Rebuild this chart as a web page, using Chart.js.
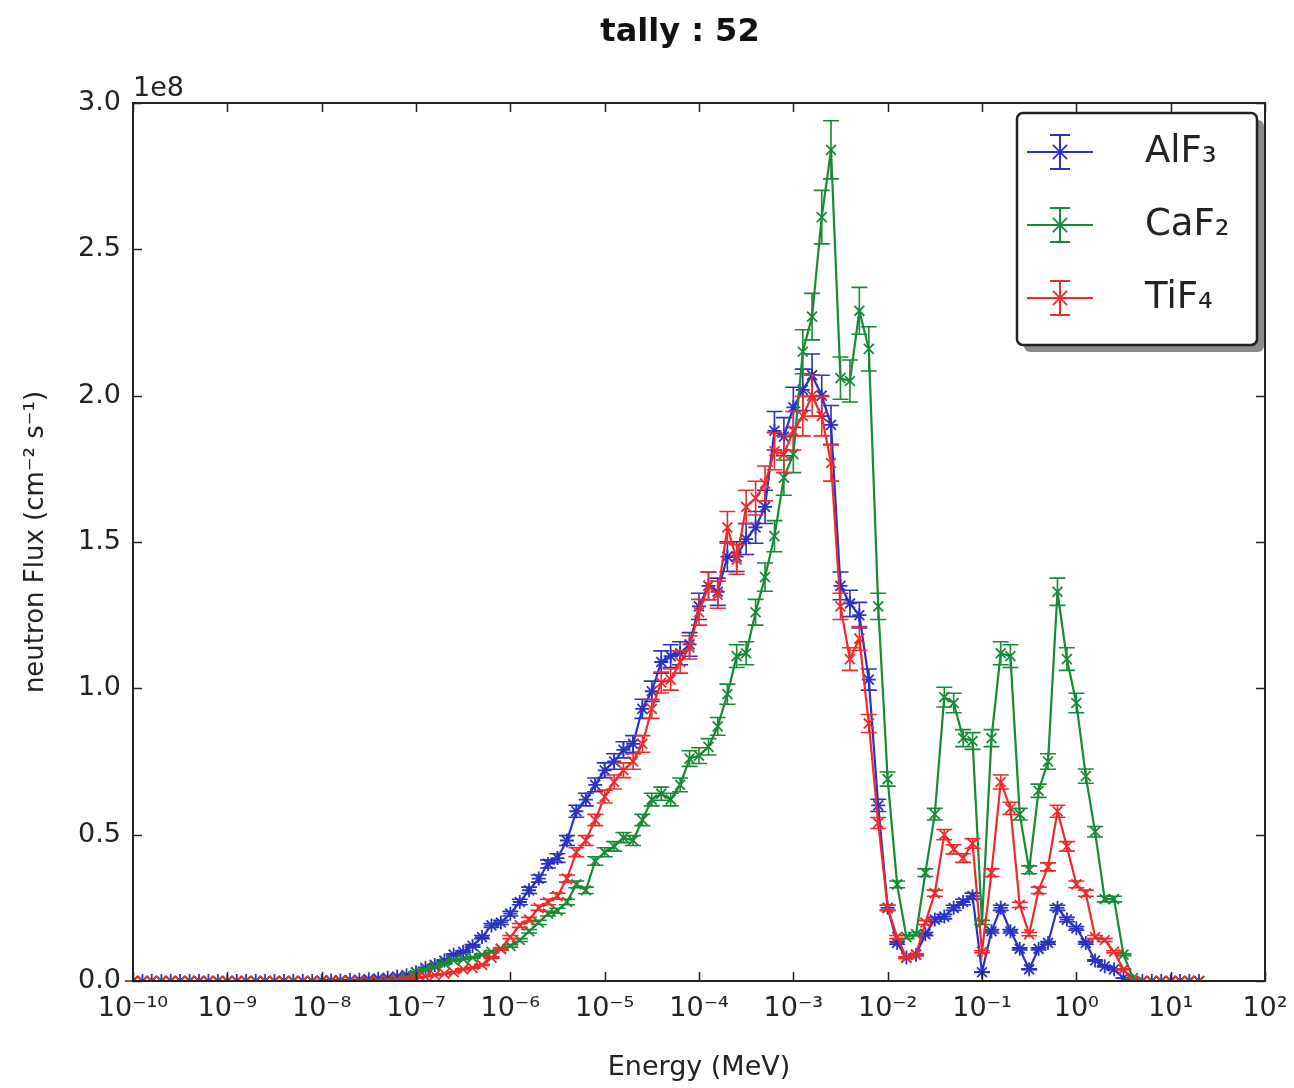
<!DOCTYPE html>
<html>
<head>
<meta charset="utf-8">
<script src="https://cdn.jsdelivr.net/npm/chart.js@4.4.1/dist/chart.umd.min.js"></script>
<style>
  html, body { margin: 0; padding: 0; background: #fff; }
  #wrap { width: 1294px; height: 1088px; }
</style>
</head>
<body>
<div id="wrap"><canvas id="myChart" width="1294" height="1088"></canvas></div>
<script>
// energy bins (MeV), 10 per decade
var energy = [
  1.00e-10, 1.26e-10, 1.58e-10, 2.00e-10, 2.51e-10, 3.16e-10, 3.98e-10, 5.01e-10, 6.31e-10, 7.94e-10,
  1.00e-9, 1.26e-9, 1.58e-9, 2.00e-9, 2.51e-9, 3.16e-9, 3.98e-9, 5.01e-9, 6.31e-9, 7.94e-9,
  1.00e-8, 1.26e-8, 1.58e-8, 2.00e-8, 2.51e-8, 3.16e-8, 3.98e-8, 5.01e-8, 6.31e-8, 7.94e-8,
  1.00e-7, 1.26e-7, 1.58e-7, 2.00e-7, 2.51e-7, 3.16e-7, 3.98e-7, 5.01e-7, 6.31e-7, 7.94e-7,
  1.00e-6, 1.26e-6, 1.58e-6, 2.00e-6, 2.51e-6, 3.16e-6, 3.98e-6, 5.01e-6, 6.31e-6, 7.94e-6,
  1.00e-5, 1.26e-5, 1.58e-5, 2.00e-5, 2.51e-5, 3.16e-5, 3.98e-5, 5.01e-5, 6.31e-5, 7.94e-5,
  1.00e-4, 1.26e-4, 1.58e-4, 2.00e-4, 2.51e-4, 3.16e-4, 3.98e-4, 5.01e-4, 6.31e-4, 7.94e-4,
  1.00e-3, 1.26e-3, 1.58e-3, 2.00e-3, 2.51e-3, 3.16e-3, 3.98e-3, 5.01e-3, 6.31e-3, 7.94e-3,
  1.00e-2, 1.26e-2, 1.58e-2, 2.00e-2, 2.51e-2, 3.16e-2, 3.98e-2, 5.01e-2, 6.31e-2, 7.94e-2,
  1.00e-1, 1.26e-1, 1.58e-1, 2.00e-1, 2.51e-1, 3.16e-1, 3.98e-1, 5.01e-1, 6.31e-1, 7.94e-1,
  1.00, 1.26, 1.58, 2.00, 2.51, 3.16, 3.98, 5.01, 6.31, 7.94,
  10.0, 12.6, 15.8, 20.0
];

// neutron flux in units of 1e8 cm^-2 s^-1
var alf3 = [
  0, 0, 0, 0, 0, 0, 0, 0, 0, 0,
  0, 0, 0, 0, 0, 0, 0, 0, 0, 0,
  0.001, 0.002, 0.002, 0.003, 0.004, 0.006, 0.008, 0.011, 0.015, 0.02,
  0.03, 0.045, 0.055, 0.07, 0.09, 0.10, 0.12, 0.15, 0.19, 0.20,
  0.23, 0.27, 0.31, 0.35, 0.40, 0.42, 0.48, 0.58, 0.62, 0.67,
  0.72, 0.75, 0.79, 0.81, 0.93, 0.99, 1.09, 1.11, 1.12, 1.15,
  1.28, 1.35, 1.33, 1.45, 1.45, 1.51, 1.55, 1.62, 1.88, 1.86,
  1.96, 2.02, 2.07, 2.00, 1.90, 1.35, 1.29, 1.25, 1.03, 0.60,
  0.25, 0.13, 0.08, 0.09, 0.16, 0.21, 0.22, 0.25, 0.27, 0.29,
  0.03, 0.17, 0.25, 0.17, 0.11, 0.04, 0.11, 0.13, 0.25, 0.21,
  0.18, 0.13, 0.07, 0.05, 0.04, 0.01, 0, 0, 0, 0,
  0, 0, 0, 0
];
var caf2 = [
  0, 0, 0, 0, 0, 0, 0, 0, 0, 0,
  0, 0, 0, 0, 0, 0, 0, 0, 0, 0,
  0, 0, 0, 0, 0, 0, 0, 0.003, 0.006, 0.012,
  0.03, 0.04, 0.05, 0.06, 0.07, 0.075, 0.08, 0.09, 0.10, 0.11,
  0.12, 0.14, 0.17, 0.20, 0.23, 0.24, 0.27, 0.33, 0.31, 0.41,
  0.44, 0.46, 0.49, 0.48, 0.55, 0.62, 0.64, 0.62, 0.67, 0.76,
  0.77, 0.80, 0.87, 0.98, 1.11, 1.12, 1.26, 1.38, 1.52, 1.72,
  1.80, 2.15, 2.27, 2.61, 2.84, 2.06, 2.05, 2.29, 2.16, 1.28,
  0.69, 0.33, 0.15, 0.16, 0.37, 0.57, 0.97, 0.95, 0.83, 0.82,
  0.20, 0.83, 1.12, 1.11, 0.57, 0.38, 0.65, 0.75, 1.33, 1.10,
  0.95, 0.70, 0.51, 0.28, 0.28, 0.09, 0.01, 0, 0, 0,
  0, 0, 0, 0
];
var tif4 = [
  0, 0, 0, 0, 0, 0, 0, 0, 0, 0,
  0, 0, 0, 0, 0, 0, 0, 0, 0, 0,
  0, 0, 0, 0, 0, 0, 0, 0.002, 0.003, 0.005,
  0.01, 0.015, 0.02, 0.025, 0.03, 0.04, 0.045, 0.055, 0.08, 0.11,
  0.15, 0.19, 0.21, 0.25, 0.27, 0.29, 0.35, 0.44, 0.48, 0.55,
  0.63, 0.68, 0.72, 0.75, 0.81, 0.93, 1.02, 1.03, 1.09, 1.14,
  1.26, 1.35, 1.32, 1.55, 1.44, 1.62, 1.65, 1.70, 1.81, 1.80,
  1.88, 1.93, 2.00, 1.93, 1.77, 1.28, 1.10, 1.17, 0.88, 0.54,
  0.25, 0.15, 0.08, 0.09, 0.20, 0.30, 0.50, 0.45, 0.42, 0.47,
  0.10, 0.37, 0.68, 0.59, 0.26, 0.16, 0.31, 0.39, 0.58, 0.46,
  0.33, 0.30, 0.15, 0.14, 0.10, 0.04, 0, 0, 0, 0,
  0, 0, 0, 0
];

var seriesNames = ['AlF₃', 'CaF₂', 'TiF₄'];
var seriesColors = ['#2a32c4', '#168a34', '#ee2a2a'];
var decadeTicks = [1e-10, 1e-9, 1e-8, 1e-7, 1e-6, 1e-5, 1e-4, 1e-3, 1e-2, 1e-1, 1e0, 1e1, 1e2];
var decadeLabels = ['10⁻¹⁰', '10⁻⁹', '10⁻⁸', '10⁻⁷', '10⁻⁶', '10⁻⁵', '10⁻⁴', '10⁻³', '10⁻²', '10⁻¹', '10⁰', '10¹', '10²'];
var fluxTicks = [0, 0.5, 1.0, 1.5, 2.0, 2.5, 3.0];
var relErr = 0.035; // approx. relative tally error shown as error bars

function toPoints(vals) {
  return vals.map(function (v, i) { return { x: energy[i], y: v }; });
}

var FONT = '"DejaVu Sans", "Liberation Sans", sans-serif';

var errorBars = {
  id: 'errorBars',
  afterDatasetDraw: function (chart, args) {
    var ds = chart.data.datasets[args.index];
    var ys = chart.scales.y;
    var ctx = chart.ctx;
    ctx.save();
    ctx.strokeStyle = ds.borderColor;
    ctx.lineWidth = 1.6;
    args.meta.data.forEach(function (pt, i) {
      var v = ds.data[i].y;
      var top = ys.getPixelForValue(v * (1 + relErr));
      var bot = ys.getPixelForValue(v * (1 - relErr));
      ctx.beginPath();
      ctx.moveTo(pt.x, top); ctx.lineTo(pt.x, bot);
      ctx.moveTo(pt.x - 8, top); ctx.lineTo(pt.x + 8, top);
      ctx.moveTo(pt.x - 8, bot); ctx.lineTo(pt.x + 8, bot);
      ctx.stroke();
    });
    ctx.restore();
  }
};

function drawStar(ctx, x, y, r) {
  ctx.beginPath();
  ctx.moveTo(x - r, y); ctx.lineTo(x + r, y);
  ctx.moveTo(x, y - r); ctx.lineTo(x, y + r);
  var d = r * 0.707;
  ctx.moveTo(x - d, y - d); ctx.lineTo(x + d, y + d);
  ctx.moveTo(x - d, y + d); ctx.lineTo(x + d, y - d);
  ctx.stroke();
}

var frame = {
  id: 'frame',
  afterDraw: function (chart) {
    var ctx = chart.ctx;
    var a = chart.chartArea;
    var xs = chart.scales.x, ys = chart.scales.y;
    ctx.save();
    ctx.strokeStyle = '#222';
    ctx.lineWidth = 1.5;
    // inward tick marks
    ctx.beginPath();
    decadeTicks.forEach(function (v) {
      var px = Math.round(xs.getPixelForValue(v)) + 0.5;
      ctx.moveTo(px, a.bottom); ctx.lineTo(px, a.bottom - 9);
      ctx.moveTo(px, a.top); ctx.lineTo(px, a.top + 9);
    });
    fluxTicks.forEach(function (v) {
      var py = Math.round(ys.getPixelForValue(v)) + 0.5;
      ctx.moveTo(a.left, py); ctx.lineTo(a.left + 9, py);
      ctx.moveTo(a.right, py); ctx.lineTo(a.right - 9, py);
    });
    ctx.stroke();
    ctx.lineWidth = 2;
    ctx.strokeRect(a.left, a.top, a.right - a.left, a.bottom - a.top);

    // offset text
    ctx.fillStyle = '#222';
    ctx.font = '27px ' + FONT;
    ctx.textAlign = 'left';
    ctx.textBaseline = 'alphabetic';
    ctx.fillText('1e8', a.left, a.top - 7);

    // title
    ctx.font = 'bold 32px ' + FONT;
    ctx.textAlign = 'center';
    ctx.fillStyle = '#111';
    ctx.fillText('tally : 52', 680, 41);

    // legend
    var lx = 1017, ly = 113, lw = 240, lh = 232;
    ctx.fillStyle = '#8a8a8a';
    ctx.beginPath();
    ctx.roundRect(lx + 7, ly + 7, lw, lh, 6);
    ctx.fill();
    ctx.fillStyle = '#fff';
    ctx.beginPath();
    ctx.roundRect(lx, ly, lw, lh, 6);
    ctx.fill();
    ctx.lineWidth = 2.5;
    ctx.strokeStyle = '#222';
    ctx.stroke();
    seriesNames.forEach(function (name, i) {
      var y = ly + 39 + i * 73;
      ctx.strokeStyle = seriesColors[i];
      ctx.lineWidth = 2;
      ctx.beginPath();
      ctx.moveTo(lx + 10, y); ctx.lineTo(lx + 76, y);
      ctx.moveTo(lx + 43, y - 17); ctx.lineTo(lx + 43, y + 17);
      ctx.moveTo(lx + 33, y - 17); ctx.lineTo(lx + 53, y - 17);
      ctx.moveTo(lx + 33, y + 17); ctx.lineTo(lx + 53, y + 17);
      ctx.stroke();
      ctx.lineWidth = 1.8;
      drawStar(ctx, lx + 43, y, 10);
      ctx.fillStyle = '#222';
      ctx.font = '37px ' + FONT;
      ctx.textAlign = 'left';
      ctx.textBaseline = 'middle';
      ctx.fillText(name, lx + 128, y);
    });
    ctx.restore();
  }
};

var ctx = document.getElementById('myChart').getContext('2d');
var chart = new Chart(ctx, {
  type: 'line',
  data: {
    datasets: [
      {
        label: seriesNames[0],
        data: toPoints(alf3),
        borderColor: seriesColors[0],
        backgroundColor: seriesColors[0],
        pointStyle: 'star',
        order: 3,
      },
      {
        label: seriesNames[1],
        data: toPoints(caf2),
        borderColor: seriesColors[1],
        backgroundColor: seriesColors[1],
        pointStyle: 'crossRot',
        order: 2,
      },
      {
        label: seriesNames[2],
        data: toPoints(tif4),
        borderColor: seriesColors[2],
        backgroundColor: seriesColors[2],
        pointStyle: 'crossRot',
        order: 1,
      },
    ],
  },
  plugins: [errorBars, frame],
  options: {
    responsive: false,
    animation: false,
    devicePixelRatio: 1,
    layout: { padding: { top: 103, right: 29, left: 0, bottom: 0 } },
    elements: {
      line: { borderWidth: 2.2, tension: 0 },
      point: { radius: 7, borderWidth: 1.8 },
    },
    plugins: {
      legend: { display: false },
      tooltip: { enabled: false },
    },
    scales: {
      x: {
        type: 'logarithmic',
        min: 1e-10,
        max: 1e2,
        afterBuildTicks: function (scale) {
          scale.ticks = decadeTicks.map(function (v) { return { value: v }; });
        },
        afterFit: function (scale) {
          scale.height = 107;
          scale.paddingLeft = 0;
          scale.paddingRight = 0;
        },
        grid: { display: false, drawTicks: false },
        border: { display: false },
        ticks: {
          autoSkip: false,
          maxRotation: 0,
          padding: 12,
          color: '#222',
          font: { family: FONT, size: 27 },
          callback: function (v, i) { return decadeLabels[i]; },
        },
        title: {
          display: true,
          text: 'Energy (MeV)',
          color: '#222',
          font: { family: FONT, size: 27 },
          padding: { top: 0, bottom: 4 },
        },
      },
      y: {
        min: 0,
        max: 3,
        afterBuildTicks: function (scale) {
          scale.ticks = fluxTicks.map(function (v) { return { value: v }; });
        },
        afterFit: function (scale) {
          scale.width = 133;
          scale.paddingTop = 0;
          scale.paddingBottom = 0;
        },
        grid: { display: false, drawTicks: false },
        border: { display: false },
        ticks: {
          padding: 12,
          color: '#222',
          font: { family: FONT, size: 27 },
          callback: function (v) { return v.toFixed(1); },
        },
        title: {
          display: true,
          text: 'neutron Flux (cm⁻² s⁻¹)',
          color: '#222',
          font: { family: FONT, size: 26 },
          padding: { top: 21, bottom: 0 },
        },
      },
    },
  },
});
</script>
</body>
</html>
